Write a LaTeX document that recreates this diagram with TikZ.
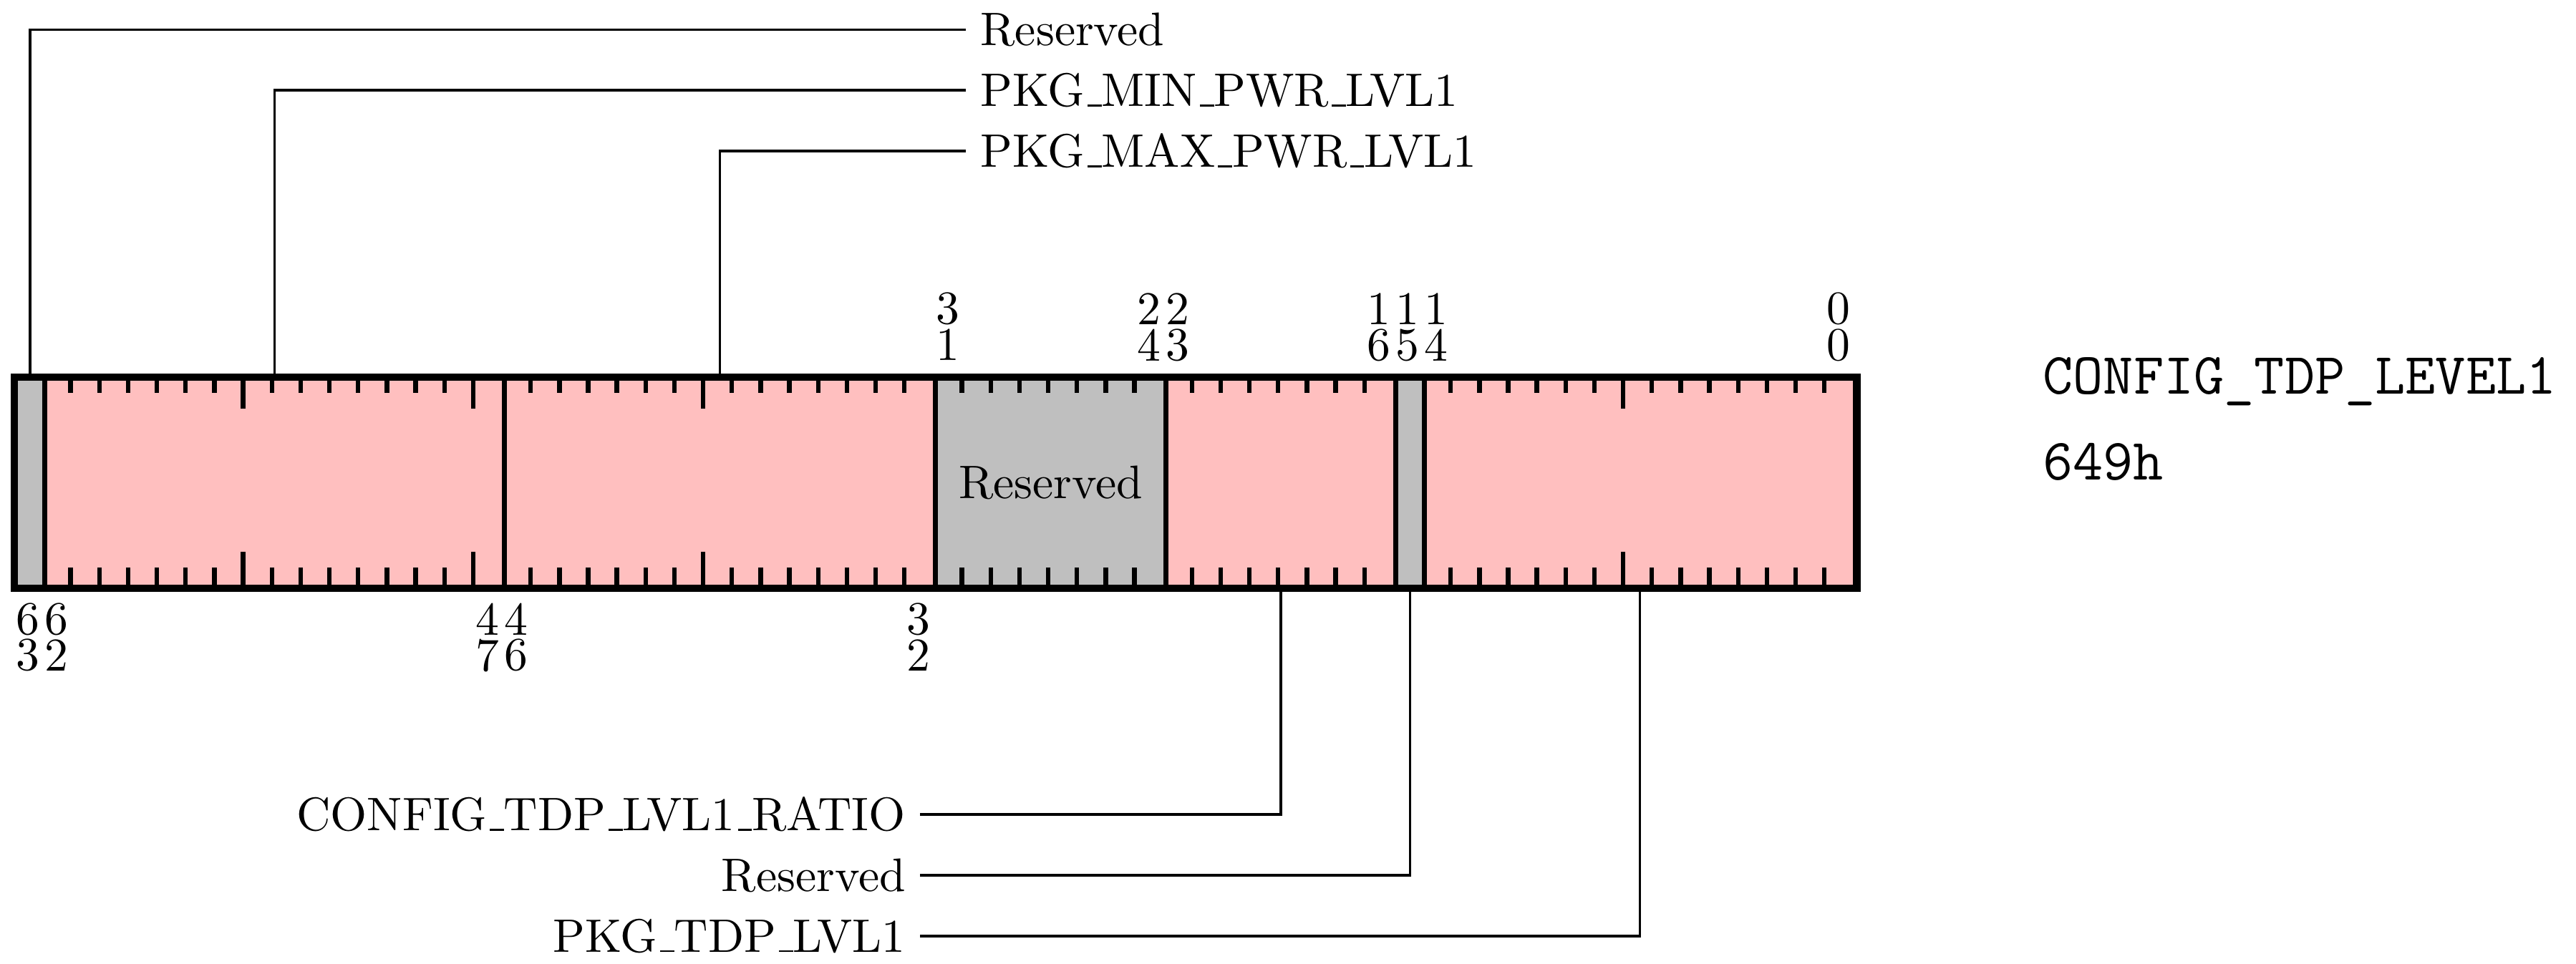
\documentclass[tikz,border=0pt]{standalone}
\definecolor{regpink}{RGB}{255,191,191}
\definecolor{reggray}{RGB}{191,191,191}
\newcommand\usc{\leavevmode\kern.06em\vbox{\hrule width.3em}}
\begin{document}
\begin{tikzpicture}[x=0.36pt,y=-0.36pt,
  every node/.style={font=\fontsize{10.3}{12.4}\selectfont},
  field/.style={draw, line width=1.1pt, inner sep=0pt, minimum height=45.72pt, anchor=north west},
  pinkf/.style={field, fill=regpink},
  grayf/.style={field, fill=reggray},
  tickmark/.style={line width=1pt},
  conn/.style={line width=0.55pt},
  lbl/.style={inner sep=3pt},
  bitdigit/.style={inner sep=0pt},
  regname/.style={anchor=base west, inner sep=0pt, font=\ttfamily\fontsize{12.85}{15}\selectfont},
]
\useasboundingbox (0,0) rectangle (1568,587);

% fields
\node[grayf, minimum width=6.3pt]   (f63) at (8,229) {};
\node[pinkf, minimum width=100.8pt] (f62) at (25.5,229) {};
\node[pinkf, minimum width=94.5pt]  (f46) at (305.5,229) {};
\node[grayf, minimum width=50.4pt]  (f31) at (568,229) {Reserved};
\node[pinkf, minimum width=50.4pt]  (f23) at (708,229) {};
\node[grayf, minimum width=6.3pt]   (f15) at (848,229) {};
\node[pinkf, minimum width=94.5pt]  (f14) at (865.5,229) {};

% tick marks
\foreach \lo/\hi in {48/62, 33/46, 25/31, 17/23, 1/14}{
  \foreach \k in {\lo,...,\hi}{
    \pgfmathsetmacro\tl{ifthenelse(mod(\k,8)==0,20,10.4)}
    \draw[tickmark] ({1128-\k*17.5},229) -- ++(0,\tl);
    \draw[tickmark] ({1128-\k*17.5},356) -- ++(0,-\tl);
  }
}

% outer border
\draw[line width=1.1pt] (f63.north west) rectangle (f14.south east);

% bit numbers top
\foreach \b in {31,24,23,16,15,14,0}{
  \pgfmathtruncatemacro\tens{div(\b,10)}
  \pgfmathtruncatemacro\ones{mod(\b,10)}
  \node[bitdigit] (tt\b) at ({1119.25-\b*17.5},188) {\tens};
  \node[bitdigit] (tu\b) at ({1119.25-\b*17.5},210) {\ones};
}
% bit numbers bottom
\foreach \b in {63,62,47,46,32}{
  \pgfmathtruncatemacro\tens{div(\b,10)}
  \pgfmathtruncatemacro\ones{mod(\b,10)}
  \node[bitdigit] (bt\b) at ({1119.25-\b*17.5},377) {\tens};
  \node[bitdigit] (bu\b) at ({1119.25-\b*17.5},399) {\ones};
}

% labels and connectors, top
\node[lbl, anchor=west] (lres63) at (588,18) {Reserved};
\draw[conn] (lres63.west) -| (f63.north);
\node[lbl, anchor=west] (lmin) at (588,55) {PKG\usc MIN\usc PWR\usc LVL1};
\draw[conn] (lmin.west) -| (f62.north);
\node[lbl, anchor=west] (lmax) at (588,92) {PKG\usc MAX\usc PWR\usc LVL1};
\draw[conn] (lmax.west) -| (f46.north);

% labels and connectors, bottom
\node[lbl, anchor=east] (lratio) at (560,496) {CONFIG\usc TDP\usc LVL1\usc RATIO};
\draw[conn] (lratio.east) -| (f23.south);
\node[lbl, anchor=east] (lres15) at (560,533) {Reserved};
\draw[conn] (lres15.east) -| (f15.south);
\node[lbl, anchor=east] (ltdp) at (560,570) {PKG\usc TDP\usc LVL1};
\draw[conn] (ltdp.east) -| (f14.south);

% register name and address
\node[regname] (rname) at (1243,240) {CONFIG\_TDP\_LEVEL1};
\node[regname] (raddr) at (1243,292) {649h};
\end{tikzpicture}
\end{document}
